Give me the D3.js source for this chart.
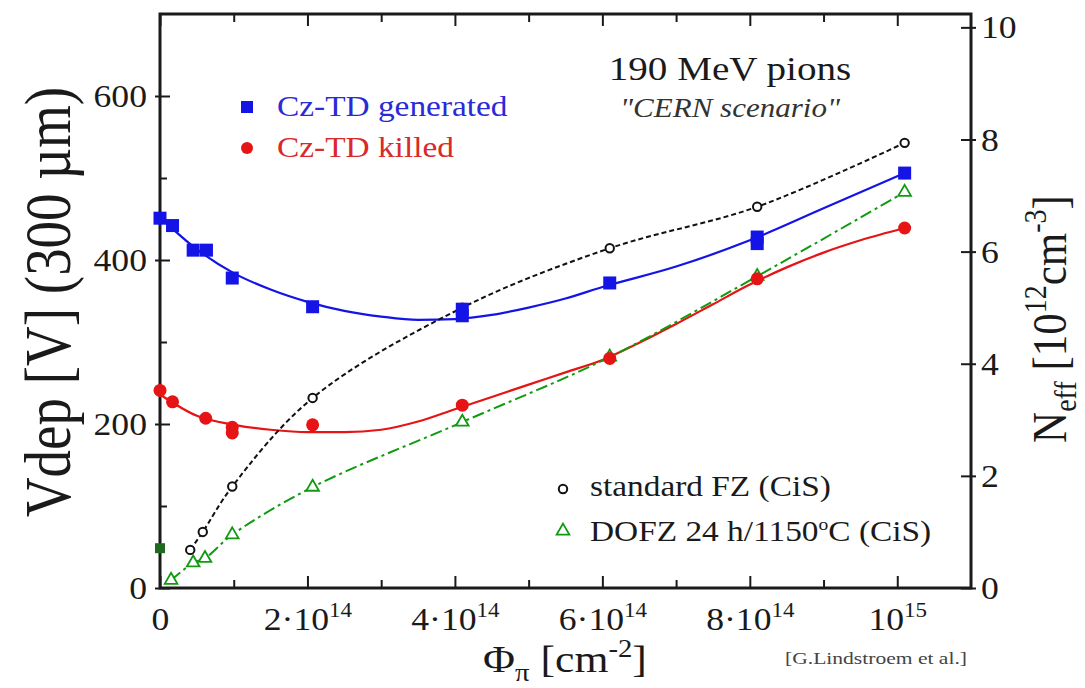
<!DOCTYPE html>
<html><head><meta charset="utf-8">
<script src="https://cdn.jsdelivr.net/npm/d3@7"></script>
<style>body{margin:0;background:#fff}svg{display:block}
svg text{font-family:"Liberation Serif","Times New Roman",Times,serif !important}</style>
</head><body>
<svg id="c" width="1085" height="688"></svg>
<script>
// ---- data (fluence in units of 1e14 cm^-2) ----
// Cz-TD generated (Vdep, V)
const phiGen = [0, 0.17, 0.45, 0.63, 0.98, 2.07, 4.1, 4.1, 6.1, 8.1, 8.1, 10.1];
const vGen   = [451, 442, 412, 412, 378, 343, 332, 340, 372, 420, 428, 506];
// Cz-TD killed (Vdep, V)
const phiKill = [0, 0.17, 0.62, 0.98, 0.98, 2.07, 4.1, 6.1, 8.1, 10.1];
const vKill   = [241, 227, 207, 196, 189, 199, 223, 280, 377, 439];
// fitted curves
const fitPhiGen = [0, 0.5, 1, 1.5, 2, 2.5, 3, 3.5, 4, 4.5, 5, 5.5, 6, 7, 8, 9, 10.1];
const fitGen    = [452, 413, 384, 364, 349, 338, 331, 327, 328, 333, 342, 353, 367, 392, 424, 463, 506];
const fitPhiKill = [0, 0.5, 1, 1.5, 2, 2.5, 3, 3.5, 4, 4.5, 5, 5.5, 6, 6.5, 7, 7.5, 8, 8.5, 9, 9.5, 10.1];
const fitKill    = [236, 210, 199, 193, 190, 190, 193, 203, 218, 233, 248, 263, 278, 299, 322, 346, 370, 391, 409, 424, 439];
// standard FZ (CiS) (Neff, 1e12 cm^-3)
const phiFZ  = [0.41, 0.58, 0.98, 2.07, 4.1, 6.1, 8.1, 10.1];
const neffFZ = [0.68, 1.00, 1.81, 3.39, 5.0, 6.06, 6.80, 7.94];
// DOFZ 24 h/1150C (CiS) (Neff, 1e12 cm^-3)
const phiDO  = [0.15, 0.45, 0.61, 0.98, 2.07, 4.1, 6.1, 8.1, 10.1];
const neffDO = [0.14, 0.45, 0.53, 0.95, 1.80, 2.96, 4.12, 5.56, 7.06];
// unirradiated start point
const phiStart = [0];
const neffStart = [0.71];
// ticks
const xMajor = [0, 2, 4, 6, 8, 10];
const xMinor = [1, 3, 5, 7, 9];
const yLMajor = [0, 200, 400, 600];
const yLMinor = [100, 300, 500];
const yRMajor = [0, 2, 4, 6, 8, 10];

// ---- layout ----
const X0 = 160, X1 = 971, Y0 = 588, Y1 = 14;
const SX = 1.15;
const BLUE = "#1414e6", RED = "#e61414", GREEN = "#109a10", INK = "#1a1a1a";

const svg = d3.select("#c");
const x = d3.scaleLinear().domain([0, 11]).range([X0, X1]);
const yL = d3.scaleLinear().domain([0, 700]).range([Y0, Y1]);
const yR = d3.scaleLinear().domain([0, 700 * 0.014626]).range([Y0, Y1]);

function styleTicks(g, w) {
  g.select(".domain").remove();
  g.selectAll(".tick line").attr("stroke", INK).attr("stroke-width", w || 2);
}
[[d3.axisBottom, Y0], [d3.axisTop, Y1]].forEach(([ax, yy]) => {
  svg.append("g").attr("transform", `translate(0,${yy})`)
    .call(ax(x).tickValues(xMajor).tickSize(-12).tickFormat(""))
    .call(g => styleTicks(g));
  svg.append("g").attr("transform", `translate(0,${yy})`)
    .call(ax(x).tickValues(xMinor).tickSize(-8).tickFormat(""))
    .call(g => styleTicks(g));
});
svg.append("g").attr("transform", `translate(${X0},0)`)
  .call(d3.axisLeft(yL).tickValues(yLMajor).tickSize(-10).tickFormat(""))
  .call(g => styleTicks(g));
svg.append("g").attr("transform", `translate(${X0},0)`)
  .call(d3.axisLeft(yL).tickValues(yLMinor).tickSize(-7).tickFormat(""))
  .call(g => styleTicks(g));
const gL = svg.append("g").attr("transform", `translate(${X0},0)`)
  .call(d3.axisLeft(yL).tickValues(yLMajor).tickSize(5).tickFormat(d3.format("d")))
  .call(g => styleTicks(g));
gL.selectAll(".tick text").attr("x", -13 / SX).attr("dy", "0.34em")
  .attr("transform", `scale(${SX},1)`).attr("font-size", 31).attr("fill", INK);
svg.append("g").attr("transform", `translate(${X1},0)`)
  .call(d3.axisRight(yR).tickValues(yRMajor).tickSize(-10).tickFormat(""))
  .call(g => styleTicks(g));
const gR = svg.append("g").attr("transform", `translate(${X1},0)`)
  .call(d3.axisRight(yR).tickValues(yRMajor).tickSize(5).tickFormat(d3.format("d")))
  .call(g => styleTicks(g));
gR.selectAll(".tick text").attr("x", 10 / SX).attr("dy", "0.34em")
  .attr("transform", `scale(${SX},1)`).attr("font-size", 31).attr("fill", INK);
const gB = svg.append("g").attr("transform", `translate(0,${Y0})`)
  .call(d3.axisBottom(x).tickValues(xMajor).tickSize(0).tickFormat(""))
  .call(g => g.select(".domain").remove());
gB.selectAll(".tick").each(function (d) {
  const t = d3.select(this).append("text")
    .attr("y", 42).attr("text-anchor", "middle")
    .attr("transform", `scale(${SX},1)`)
    .attr("font-size", 31).attr("fill", INK);
  if (d === 0) { t.text("0"); return; }
  if (d === 10) {
    t.append("tspan").text("10");
    t.append("tspan").attr("dy", -13).attr("font-size", 20).text("15");
    return;
  }
  t.append("tspan").text(d + "\u00b710");
  t.append("tspan").attr("dy", -13).attr("font-size", 20).text("14");
});

svg.append("rect").attr("x", X0).attr("y", Y1).attr("width", X1 - X0).attr("height", Y0 - Y1)
  .attr("fill", "none").attr("stroke", INK).attr("stroke-width", 3);

// ---- curves ----
const genFit = d3.zip(fitPhiGen, fitGen);
const killFit = d3.zip(fitPhiKill, fitKill);
const lineL = d3.line().x(d => x(d[0])).y(d => yL(d[1])).curve(d3.curveMonotoneX);
const lineR = d3.line().x(d => x(d[0])).y(d => yR(d[1])).curve(d3.curveCatmullRom);
svg.append("path").attr("d", lineL(genFit)).attr("fill", "none").attr("stroke", BLUE).attr("stroke-width", 2.2);
svg.append("path").attr("d", lineL(killFit)).attr("fill", "none").attr("stroke", RED).attr("stroke-width", 2.2);
const fz = d3.zip(phiFZ, neffFZ);
const dofz = d3.zip(phiDO, neffDO);
svg.append("path").attr("d", lineR(fz)).attr("fill", "none").attr("stroke", "#111")
  .attr("stroke-width", 2).attr("stroke-dasharray", "5,3");
svg.append("path").attr("d", lineR(dofz)).attr("fill", "none").attr("stroke", GREEN)
  .attr("stroke-width", 2).attr("stroke-dasharray", "12,4,3,4");

// ---- markers ----
const tri = d3.symbol().type(d3.symbolTriangle).size(70);
svg.append("g").selectAll("path").data(dofz).join("path")
  .attr("d", tri).attr("transform", d => `translate(${x(d[0])},${yR(d[1])})`)
  .attr("fill", "#fff").attr("stroke", GREEN).attr("stroke-width", 1.8);
svg.append("g").selectAll("circle").data(fz).join("circle")
  .attr("cx", d => x(d[0])).attr("cy", d => yR(d[1])).attr("r", 4.2)
  .attr("fill", "#fff").attr("stroke", "#111").attr("stroke-width", 2);
svg.append("g").selectAll("circle").data(d3.zip(phiKill, vKill)).join("circle")
  .attr("cx", d => x(d[0])).attr("cy", d => yL(d[1])).attr("r", 6.5).attr("fill", RED);
svg.append("g").selectAll("rect").data(d3.zip(phiGen, vGen)).join("rect")
  .attr("x", d => x(d[0]) - 6.5).attr("y", d => yL(d[1]) - 6.5)
  .attr("width", 13).attr("height", 13).attr("fill", BLUE);
svg.append("g").selectAll("rect").data(d3.zip(phiStart, neffStart)).join("rect")
  .attr("x", d => x(d[0]) - 5).attr("y", d => yR(d[1]) - 5)
  .attr("width", 10).attr("height", 10).attr("fill", "#1f6a1f");

// ---- texts ----
function txt(xx, yy, s, size, opts) {
  opts = opts || {};
  const t = svg.append("text")
    .attr("transform", `translate(${xx},${yy}) scale(${opts.sx || SX},1)`)
    .attr("font-size", size)
    .attr("fill", opts.fill || INK)
    .attr("text-anchor", opts.anchor || "start");
  if (opts.italic) t.attr("font-style", "italic");
  if (s !== null) t.text(s);
  return t;
}
svg.append("rect").attr("x", 241).attr("y", 101).attr("width", 12).attr("height", 12).attr("fill", BLUE);
txt(277, 116, "Cz-TD generated", 29, { fill: "#2a2ad8" });
svg.append("circle").attr("cx", 247).attr("cy", 148).attr("r", 6).attr("fill", RED);
txt(277, 157, "Cz-TD killed", 29, { fill: "#d82a2a" });
txt(730, 80, "190 MeV pions", 34, { anchor: "middle" });
txt(730, 117, "\"CERN scenario\"", 27, { anchor: "middle", italic: true, fill: "#333" });
svg.append("circle").attr("cx", 563).attr("cy", 489).attr("r", 4.2)
  .attr("fill", "#fff").attr("stroke", "#111").attr("stroke-width", 2);
txt(590, 496, "standard FZ (CiS)", 29);
svg.append("path").attr("d", tri).attr("transform", "translate(563,531)")
  .attr("fill", "#fff").attr("stroke", GREEN).attr("stroke-width", 1.8);
const tDo = txt(590, 541, null, 29);
tDo.append("tspan").text("DOFZ 24 h/1150");
tDo.append("tspan").attr("dy", -11).attr("font-size", 17).text("o");
tDo.append("tspan").attr("dy", 11).text("C (CiS)");

const tX = txt(565, 672, null, 38, { anchor: "middle" });
tX.append("tspan").text("\u03a6");
tX.append("tspan").attr("dy", 9).attr("font-size", 25).text("\u03c0");
tX.append("tspan").attr("dy", -9).text(" [cm");
tX.append("tspan").attr("dy", -15).attr("font-size", 25).text("-2");
tX.append("tspan").attr("dy", 15).text("]");
svg.append("text").attr("x", 785).attr("y", 664)
  .attr("font-size", 16).attr("fill", "#444").attr("textLength", 182)
  .attr("lengthAdjust", "spacingAndGlyphs").text("[G.Lindstroem et al.]");

svg.append("text").attr("transform", "translate(70,302) rotate(-90) scale(1,1.2)")
  .attr("font-size", 55).attr("fill", INK)
  .attr("text-anchor", "middle").text("Vdep [V] (300 \u00b5m)");
const tR = svg.append("text").attr("transform", "translate(1066,319) rotate(-90) scale(1,1.15)")
  .attr("font-size", 43).attr("fill", INK).attr("text-anchor", "middle");
tR.append("tspan").text("N");
tR.append("tspan").attr("dy", 9).attr("font-size", 28).text("eff");
tR.append("tspan").attr("dy", -9).text(" [10");
tR.append("tspan").attr("dy", -17).attr("font-size", 28).text("12");
tR.append("tspan").attr("dy", 17).text("cm");
tR.append("tspan").attr("dy", -17).attr("font-size", 28).text("-3");
tR.append("tspan").attr("dy", 17).text("]");
</script>
</body></html>
